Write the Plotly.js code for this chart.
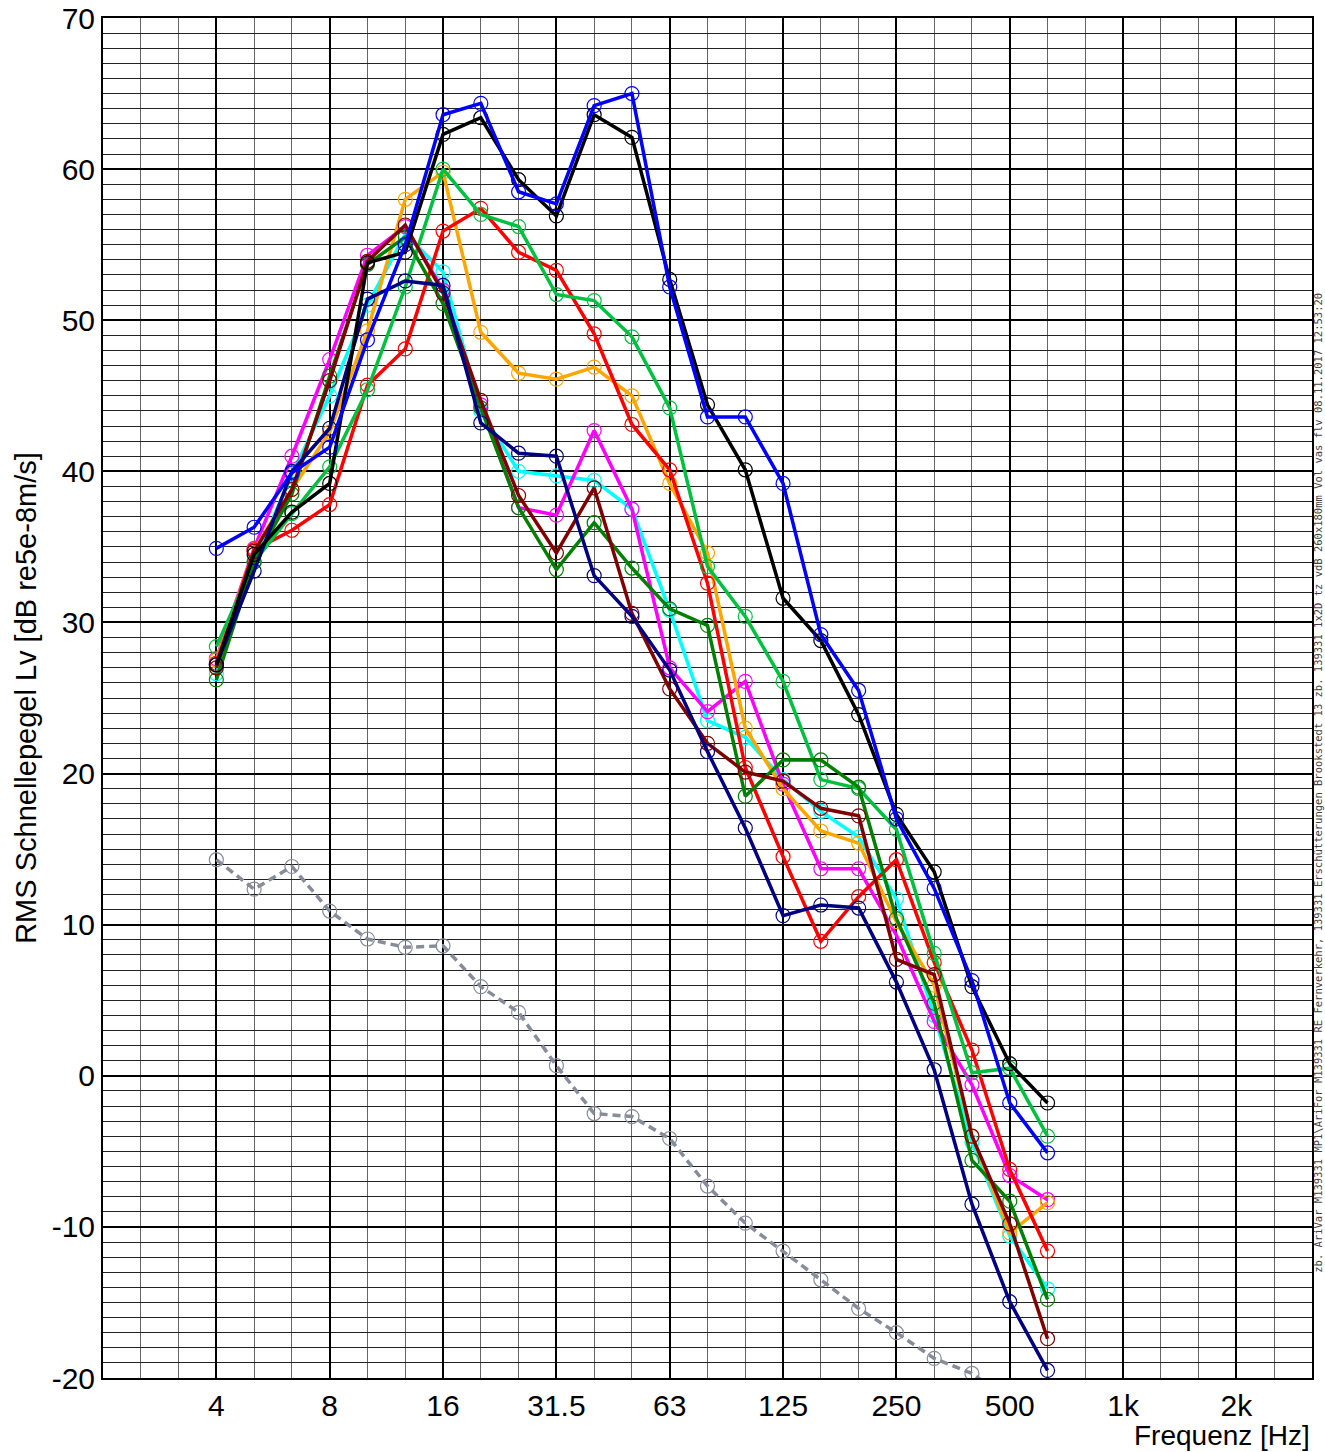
<!DOCTYPE html>
<html>
<head>
<meta charset="utf-8">
<script src="https://cdn.plot.ly/plotly-3.0.1.min.js"></script>
<style>html,body{margin:0;padding:0;background:#fff;}#chart{width:1325px;height:1452px;}</style>
</head>
<body>
<div id="chart"></div>
<script>
// 1/3-octave band centre frequencies (nominal, Hz)
var freqs = [4,5,6.3,8,10,12.5,16,20,25,31.5,40,50,63,80,100,125,160,200,250,315,400,500,630];

var black   = [27.2,34.5,37.3,39.2,53.8,54.5,62.3,63.4,59.3,56.9,63.6,62.1,52.7,44.4,40.1,31.6,28.8,23.9,17.3,13.5,5.9,0.8,-1.8];
var blue    = [34.9,36.3,39.9,41.6,48.7,55.0,63.6,64.35,58.5,57.7,64.2,65.0,52.2,43.6,43.6,39.2,29.2,25.5,17.0,12.4,6.3,-1.8,-5.1];
var red     = [27.3,34.8,36.1,37.8,45.7,48.1,55.9,57.4,54.5,53.3,49.1,43.1,40.1,32.6,20.4,14.5,8.9,11.85,14.3,7.5,1.7,-6.2,-11.6];
var orange  = [27.5,34.8,38.8,42.6,49.3,58.0,59.8,49.2,46.5,46.1,46.9,45.0,39.2,34.6,23.0,19.0,16.2,15.4,10.2,6.0,-4.0,-10.4,-8.4];
var lgreen  = [28.4,34.0,37.2,40.3,45.4,52.2,60.0,57.0,56.2,51.7,51.3,48.9,44.2,33.7,30.4,26.1,19.6,19.0,16.3,8.1,0.2,0.5,-4.0];
var dgreen  = [26.2,34.0,38.5,46.3,53.7,55.5,51.1,44.2,37.6,33.5,36.6,33.6,30.9,29.8,18.5,20.9,20.9,19.1,10.4,4.8,-5.6,-8.3,-14.8];
var magenta = [27.6,34.9,41.0,47.4,54.3,56.2,52.0,44.4,37.6,37.1,42.7,37.5,27.0,24.1,26.1,19.3,13.7,13.7,9.3,3.6,-0.6,-6.6,-8.2];
var cyan    = [26.6,34.0,39.8,45.0,51.0,55.7,53.2,44.0,40.0,39.7,39.4,37.5,30.8,23.5,22.4,19.6,17.5,15.8,11.7,4.0,-4.4,-10.6,-14.1];
var maroon  = [27.0,34.7,38.8,46.0,53.9,56.3,51.8,44.7,38.4,34.6,38.9,30.6,25.6,22.0,20.1,19.5,17.7,17.2,7.7,6.7,-4.0,-9.8,-17.4];
var navy    = [27.2,33.4,40.0,42.85,51.4,52.6,52.3,43.2,41.2,41.0,33.1,30.4,26.85,21.45,16.4,10.6,11.3,11.1,6.2,0.4,-8.5,-14.95,-19.5];
var noise   = [14.3,12.35,13.85,10.9,9.05,8.5,8.6,5.9,4.2,0.67,-2.5,-2.7,-4.15,-7.3,-9.75,-11.6,-13.5,-15.4,-17.0,-18.7,-19.7,-21.5,-23.0];

var xTickLabels = ["4","8","16","31.5","63","125","250","500","1k","2k"];
var yTickVals = [-20,-10,0,10,20,30,40,50,60,70];
var yTickLabels = ["-20","-10","0","10","20","30","40","50","60","70"];
var sideText = "zb. AriVar M139331 MP1\\AriFor M139331 RE Fernverkehr, 139331 Erschütterungen Brookstedt 13 zb. 139331 1x2D tz vdB 260x180mm Vol vas flv 08.11.2017 12:53:20";

// exact base-2 third-octave position of a nominal band frequency
function bandPos(f){ return Math.pow(2, Math.round(3*Math.log2(f))/3); }
var xs = freqs.map(bandPos);

// octave ticks (exact) and third-octave minor grid
var xTickVals = [];
for (var k = 2; k <= 11; k++) xTickVals.push(Math.pow(2,k));
var xMinor = [];
for (var n = 3; n <= 35; n++) xMinor.push(Math.pow(2, n/3));

function series(y, color, dash){
  return {
    x: xs, y: y, type: 'scatter', mode: 'lines+markers',
    line: {color: color, width: 3.5, dash: dash || 'solid'},
    marker: {symbol: 'circle-open', size: 14, color: color, line: {width: 1.2, color: color}},
    hoverinfo: 'x+y', showlegend: false
  };
}

var data = [
  series(noise, '#878c9b', '8px,5px'),
  series(cyan, '#00ffff'),
  series(magenta, '#ff00ff'),
  series(orange, '#ffa500'),
  series(red, '#ff0000'),
  series(lgreen, '#00c040'),
  series(dgreen, '#008000'),
  series(maroon, '#800000'),
  series(navy, '#000080'),
  series(black, '#000000'),
  series(blue, '#0000ff')
];

var font = 'Liberation Sans, Arial, sans-serif';
var layout = {
  width: 1325, height: 1452,
  margin: {l: 103, r: 13, t: 18, b: 74},
  paper_bgcolor: '#ffffff', plot_bgcolor: '#ffffff',
  showlegend: false,
  font: {family: font, color: '#000', size: 30},
  xaxis: {
    type: 'log',
    range: [Math.log10(2), Math.log10(Math.pow(2, 35/3))],
    tickmode: 'array', tickvals: xTickVals, ticktext: xTickLabels,
    ticks: '', tickfont: {size: 30, family: font, color: '#000'},
    showgrid: true, gridcolor: '#000', gridwidth: 2,
    minor: {tickmode: 'array', tickvals: xMinor, showgrid: true, gridcolor: '#666', gridwidth: 1, ticks: ''},
    showline: true, linecolor: '#000', linewidth: 2, mirror: true,
    zeroline: false, fixedrange: true
  },
  yaxis: {
    range: [-20, 70],
    tickmode: 'array', tickvals: yTickVals, ticktext: yTickLabels,
    ticks: '', tickfont: {size: 30, family: font, color: '#000'},
    showgrid: true, gridcolor: '#000', gridwidth: 2,
    minor: {dtick: 1, showgrid: true, gridcolor: '#222', gridwidth: 1, ticks: ''},
    showline: true, linecolor: '#000', linewidth: 2, mirror: true,
    zeroline: false, fixedrange: true,
    title: {text: 'RMS Schnellepegel Lv [dB re5e-8m/s]', font: {size: 29, family: font, color: '#000'}, standoff: 6}
  },
  annotations: [
    {xref: 'paper', yref: 'paper', x: 1, y: -0.042, xanchor: 'right', yanchor: 'middle',
     text: 'Frequenz [Hz]', showarrow: false, font: {size: 28, family: font, color: '#000'}},
    {xref: 'paper', yref: 'paper', x: 1.0053, y: 0.438, xanchor: 'center', yanchor: 'middle',
     text: sideText, textangle: -90, showarrow: false, borderpad: 0,
     font: {size: 10.5, family: 'DejaVu Sans Mono, monospace', color: '#444'}}
  ]
};

Plotly.newPlot('chart', data, layout, {staticPlot: true, displayModeBar: false});
</script>
</body>
</html>
